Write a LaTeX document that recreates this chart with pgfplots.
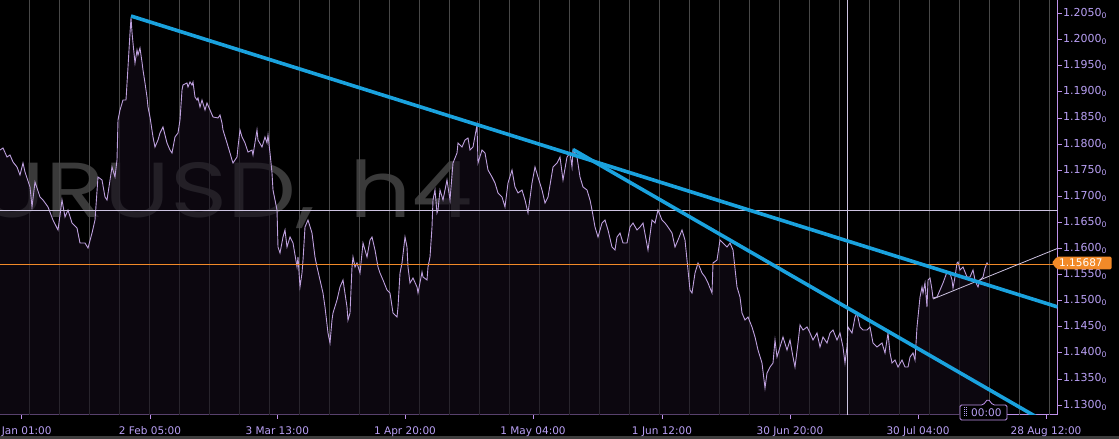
\documentclass[border=0pt]{standalone}
\usepackage{fontspec}
\setmainfont{DejaVu Sans}
\newfontfamily\wmfont[FakeStretch=1.25]{Poppins}
\usepackage{pgfplots}
\usepackage{pgfplotstable}
\pgfplotsset{compat=1.18}
\definecolor{axcol}{RGB}{190,145,235}
\definecolor{lblcol}{RGB}{185,160,245}
\definecolor{gridcol}{RGB}{72,72,72}
\definecolor{pricecol}{RGB}{190,160,222}
\definecolor{areacol}{RGB}{20,13,26}
\definecolor{cyancol}{RGB}{26,162,222}
\definecolor{orangecol}{RGB}{242,138,40}
\definecolor{crosscol}{RGB}{205,195,225}
\definecolor{wmcol}{RGB}{58,58,58}
\definecolor{stripcol}{RGB}{62,62,62}

\pgfplotstableread{
x p
0 1.17885
3 1.17924
7 1.17751
10 1.17790
13 1.17656
17 1.17560
20 1.17407
23 1.17636
25 1.17464
30 1.17177
32 1.16794
35 1.17272
40 1.16985
43 1.16928
48 1.16794
53 1.16544
58 1.16353
62 1.16928
65 1.16602
68 1.16736
72 1.16487
77 1.16391
80 1.16104
85 1.16104
88 1.16008
92 1.16295
95 1.16544
98 1.17368
102 1.17311
105 1.16985
107 1.16928
112 1.17560
115 1.17368
117 1.17694
118 1.18460
120 1.18652
123 1.18843
126 1.18843
128 1.19476
130 1.20127
131 1.20414
132 1.20146
133 1.19935
135 1.19552
137 1.19801
138 1.19705
140 1.19840
142 1.19571
143 1.19418
145 1.19169
147 1.18901
148 1.18709
150 1.18518
153 1.18135
155 1.17943
158 1.18077
160 1.18211
163 1.18326
167 1.18020
170 1.17885
172 1.17828
175 1.18135
178 1.18211
180 1.18460
182 1.19035
183 1.19131
187 1.19169
188 1.19092
190 1.19188
192 1.19131
193 1.19188
195 1.18901
197 1.18843
198 1.18882
200 1.18709
202 1.18843
205 1.18652
207 1.18786
210 1.18652
213 1.18518
218 1.18499
220 1.18556
222 1.18403
223 1.18269
227 1.18020
230 1.17828
232 1.17694
233 1.17636
237 1.17751
238 1.17943
240 1.18269
242 1.18135
245 1.18020
248 1.17847
252 1.17885
253 1.17790
257 1.18269
258 1.18077
262 1.17943
265 1.18135
267 1.18020
268 1.18173
270 1.17828
272 1.17445
273 1.17119
275 1.16928
277 1.16736
278 1.16027
280 1.15912
283 1.16219
285 1.16353
287 1.16027
290 1.16219
293 1.16104
297 1.15644
298 1.15836
300 1.15261
302 1.15529
303 1.15778
305 1.16410
308 1.16544
312 1.16295
315 1.15836
317 1.15644
320 1.15395
323 1.15146
325 1.14878
328 1.14380
330 1.14188
332 1.14629
333 1.14763
337 1.15012
340 1.15261
343 1.15395
347 1.14878
348 1.14629
350 1.14763
352 1.15644
353 1.15836
355 1.15644
357 1.15721
360 1.15529
363 1.16104
367 1.15836
370 1.16161
372 1.16219
375 1.15970
378 1.15644
380 1.15529
383 1.15395
387 1.15203
390 1.15146
393 1.14763
397 1.14686
398 1.14878
400 1.15529
402 1.15721
405 1.16219
407 1.16027
408 1.15644
410 1.15338
413 1.15433
417 1.15261
418 1.15146
422 1.15548
423 1.15453
427 1.15395
428 1.15644
430 1.15836
432 1.16410
433 1.16928
435 1.17119
437 1.16679
438 1.16736
440 1.17119
443 1.16928
447 1.17311
450 1.16928
453 1.17636
457 1.17828
458 1.18020
462 1.17943
465 1.18077
468 1.18115
470 1.17885
473 1.17943
477 1.18364
478 1.17636
482 1.17885
485 1.17828
488 1.17502
492 1.17368
495 1.17253
498 1.17062
502 1.16985
505 1.16794
508 1.17253
512 1.17502
515 1.17177
518 1.17062
522 1.17119
525 1.16928
528 1.16679
532 1.17253
535 1.17560
538 1.17368
542 1.17119
545 1.16870
548 1.16985
553 1.17560
557 1.17636
560 1.17751
563 1.17311
567 1.17751
570 1.17828
572 1.17560
573 1.17885
577 1.17751
580 1.17368
583 1.17177
587 1.17119
590 1.16928
592 1.16736
595 1.16410
598 1.16219
602 1.16487
605 1.16544
608 1.16353
612 1.16027
615 1.15970
617 1.16219
620 1.16295
623 1.16104
627 1.16104
630 1.16410
633 1.16487
637 1.16353
640 1.16410
643 1.16487
648 1.15970
652 1.16544
655 1.16487
658 1.16736
662 1.16544
665 1.16487
668 1.16410
672 1.16295
675 1.16027
678 1.16161
682 1.16353
685 1.16161
687 1.15778
690 1.15203
692 1.15146
695 1.15529
698 1.15721
702 1.15529
705 1.15453
708 1.15338
712 1.15146
713 1.15721
717 1.15778
720 1.16161
723 1.16104
727 1.16027
730 1.16104
733 1.15970
737 1.15261
740 1.15069
742 1.14763
745 1.14629
748 1.14686
752 1.14495
755 1.14303
758 1.14054
762 1.13805
765 1.13326
767 1.13613
770 1.13728
773 1.13805
775 1.14246
777 1.13920
780 1.14112
783 1.14303
787 1.14054
790 1.14246
793 1.13920
795 1.13728
798 1.14188
800 1.14533
803 1.14437
807 1.14495
810 1.14380
813 1.14246
817 1.14380
820 1.14112
823 1.14303
827 1.14188
830 1.14380
833 1.14437
837 1.14246
840 1.14380
843 1.14112
845 1.13805
847 1.14112
848 1.14495
852 1.14380
855 1.14686
857 1.14763
860 1.14495
863 1.14437
867 1.14437
870 1.14495
873 1.14188
877 1.14112
882 1.14188
885 1.13997
888 1.14380
890 1.13997
892 1.13805
895 1.13862
898 1.13728
902 1.13862
905 1.13728
908 1.13728
910 1.13920
913 1.13997
915 1.13862
917 1.14495
918 1.14686
920 1.15069
922 1.15261
923 1.15146
925 1.15338
927 1.14878
928 1.15395
930 1.15433
932 1.15203
933 1.15050
937 1.15069
940 1.15203
943 1.15338
947 1.15548
950 1.15529
952 1.15395
953 1.15242
955 1.15453
957 1.15721
958 1.15740
960 1.15587
963 1.15644
967 1.15453
970 1.15453
973 1.15587
975 1.15395
977 1.15299
978 1.15261
980 1.15395
983 1.15453
985 1.15625
987 1.15721
988 1.15687
}\pricetable

\begin{document}
\begin{tikzpicture}
\path[use as bounding box] (0pt,0pt) rectangle (1119pt,439pt);
\clip (0pt,0pt) rectangle (1119pt,439pt);
\fill[black] (0pt,0pt) rectangle (1119pt,439pt);
\fill[stripcol] (0pt,0pt) rectangle (1119pt,3pt);
\node[anchor=base east, inner sep=0pt, text=wmcol, font=\wmfont\fontsize{78}{80}\selectfont] at (316pt,221pt) {EURUSD,};
\node[anchor=base west, inner sep=0pt, text=wmcol, font=\wmfont\fontsize{78}{80}\selectfont] at (349pt,221pt) {h4};
\begin{axis}[
  at={(0pt,24pt)}, anchor=south west,
  scale only axis, width=1057.5pt, height=415pt,
  xmin=0, xmax=1057.5, ymin=1.12809, ymax=1.20759,
  axis x line*=bottom, axis y line*=right,
  axis line style={-, draw=axcol, line width=1pt},
  xtick={21.7,150,277.3,405,533,662,790,918,1046},
  xticklabels={2 Jan 01:00,2 Feb 05:00,3 Mar 13:00,1 Apr 20:00,1 May 04:00,1 Jun 12:00,30 Jun 20:00,30 Jul 04:00,28 Aug 12:00},
  ytick={1.13,1.135,1.14,1.145,1.15,1.155,1.16,1.165,1.17,1.175,1.18,1.185,1.19,1.195,1.2,1.205},
  yticklabels={1.1300\textsubscript{0},1.1350\textsubscript{0},1.1400\textsubscript{0},1.1450\textsubscript{0},1.1500\textsubscript{0},1.1550\textsubscript{0},1.1600\textsubscript{0},1.1650\textsubscript{0},1.1700\textsubscript{0},1.1750\textsubscript{0},1.1800\textsubscript{0},1.1850\textsubscript{0},1.1900\textsubscript{0},1.1950\textsubscript{0},1.2000\textsubscript{0},1.2050\textsubscript{0}},
  tick style={draw=axcol, line width=0.8pt},
  tick align=outside, major tick length=4pt,
  xticklabel style={text=lblcol, font=\fontsize{10.5}{12}\selectfont, anchor=base, inner sep=0pt, yshift=-16pt},
  yticklabel style={text=lblcol, font=\fontsize{11}{12}\selectfont, anchor=west, inner sep=0pt, xshift=1.5pt},
  extra x ticks={29.5,59.5,...,1049.5},
  extra x tick labels={},
  extra x tick style={grid=major, major grid style={draw=gridcol, line width=0.8pt}, major tick length=0pt},
  clip mode=individual,
]
\addplot[draw=none, fill=areacol, fill opacity=0.6] table[x=x, y=p] {\pricetable} \closedcycle;
\addplot[pricecol, line width=0.9pt] table[x=x, y=p] {\pricetable};
\addplot[crosscol, line width=1pt] coordinates {(847,1.12809) (847,1.20759)};
\addplot[crosscol, line width=1pt] coordinates {(0,1.16717) (1057.5,1.16717)};
\addplot[orangecol, line width=1.2pt] coordinates {(0,1.15687) (1057.5,1.15687)};
\addplot[crosscol, line width=0.8pt] coordinates {(933,1.15031) (1057.5,1.16000)};
\addplot[cyancol, line width=3.6pt] coordinates {(131,1.20452) (1057.5,1.14880)};
\addplot[cyancol, line width=3.6pt] coordinates {(573,1.17895) (1057.5,1.12539)};
\end{axis}
% last price label
\fill[orangecol, rounded corners=1.5pt] (1051.7pt,176pt) -- (1057pt,182.3pt) -- (1111.7pt,182.3pt) -- (1111.7pt,169.7pt) -- (1057pt,169.7pt) -- cycle;
\node[anchor=base west, inner sep=0pt, text=white, font=\fontsize{10.5}{12}\selectfont] at (1059pt,172.3pt) {1.15687};
% time label
\draw[axcol, fill=black, line width=0.8pt, rounded corners=1.5pt] (960pt,19pt) -- (960pt,34pt) -- (983pt,34pt) -- (988pt,40pt) -- (993pt,34pt) -- (1007pt,34pt) -- (1007pt,19pt) -- cycle;
\foreach \yy in {22.5,24.5,26.5,28.5,30.5} {\fill[lblcol] (963.5pt,\yy pt) rectangle (964.5pt,\yy pt+1pt); \fill[lblcol] (965.5pt,\yy pt) rectangle (966.5pt,\yy pt+1pt);}
\node[anchor=base west, inner sep=0pt, text=lblcol, font=\fontsize{10.5}{12}\selectfont] at (971pt,22.5pt) {00:00};
\end{tikzpicture}
\end{document}
